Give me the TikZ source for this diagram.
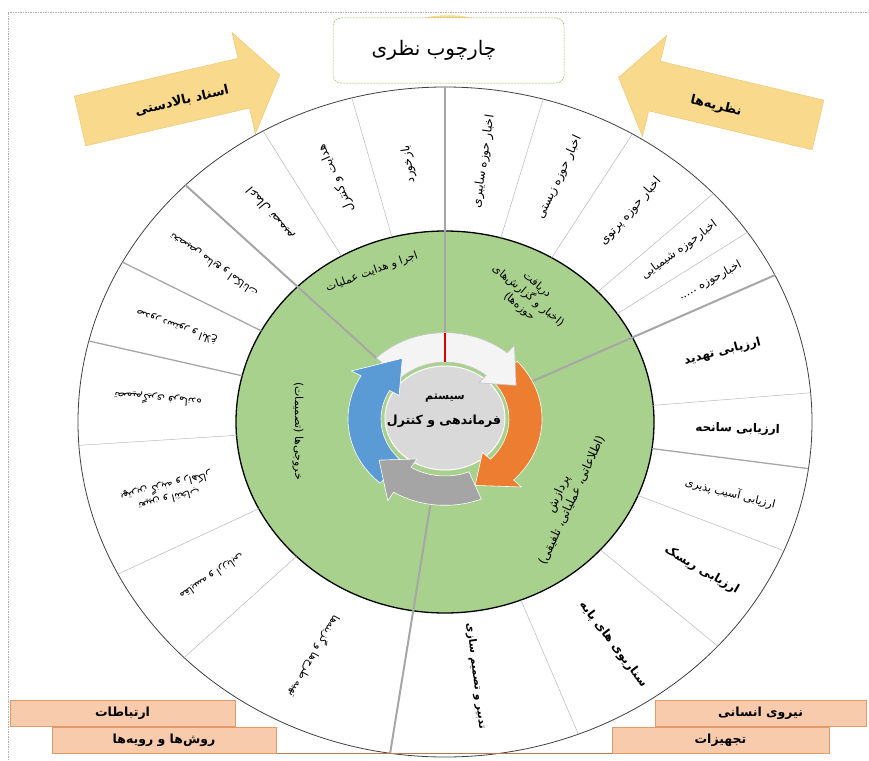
\documentclass[tikz,border=0pt]{standalone}
\usepackage{fontspec}
\usetikzlibrary{calc}
\newfontfamily\arabicfont[Script=Arabic]{DejaVu Sans}
\TeXXeTstate=1
\newcommand\fa[1]{\beginR#1\endR}
\definecolor{wheelgreen}{HTML}{A9D18E}
\definecolor{yarrow}{HTML}{F9D98B}
\definecolor{yarrowedge}{HTML}{E9C46F}
\definecolor{boxfill}{HTML}{F8CBAD}
\definecolor{boxedge}{HTML}{E39A6B}
\definecolor{ctwoblue}{HTML}{5B9BD5}
\definecolor{ctwoorange}{HTML}{ED7D31}
\definecolor{ctwogray}{HTML}{A5A5A5}
\definecolor{ctwowhite}{HTML}{F4F4F4}
\definecolor{ctwodisc}{HTML}{D9D9D9}
\definecolor{spokegray}{HTML}{A6A6A6}
\definecolor{framegreen}{HTML}{9BBB59}
% wedge label: [style]{name}{angle}{fraction}{text}
\newcommand\wl[5][wlab]{%
  \node[#1, rotate={atan2(263*sin(#3),288*cos(#3))}] (#2) at ({445+(209+#4*158)*cos(#3)},{-422+(191+#4*144)*sin(#3)}) {#5};}
\newcommand\spk[2]{% style, angle : from green edge to outer edge
  \draw[#1] ({445+209*cos(#2)},{-422+191*sin(#2)}) -- ({445+367*cos(#2)},{-422+335*sin(#2)});}
\newcommand\tspk[1]{% thick spoke from ring to outer edge
  \draw[thickspoke] ({445+97*cos(#1)},{-419+86*sin(#1)}) -- ({445+367*cos(#1)},{-422+335*sin(#1)});}
\newcommand\ringarrow[5]{% fill, draw, a0, a1, a2
  \filldraw[fill=#1, draw=#2, line width=0.6pt] (#3:97) arc[start angle=#3, end angle=#4, radius=97] -- (#4:108) -- (#5:80.5) -- (#4:53) -- (#4:64) arc[start angle=#4, end angle=#3, radius=64] -- cycle;}
\begin{document}
\begin{tikzpicture}[x=1pt,y=1pt,
  every node/.style={font=\arabicfont, inner sep=0pt},
  wlab/.style={font=\arabicfont\fontsize{12}{14}\selectfont, align=center},
  wlabn/.style={font=\arabicfont\fontsize{11.5}{14}\selectfont, align=center},
  wlabb/.style={font=\arabicfont\bfseries\fontsize{12}{14}\selectfont, align=center},
  wlabs/.style={font=\arabicfont\fontsize{11}{13}\selectfont, align=center},
  wlabsb/.style={font=\arabicfont\bfseries\fontsize{10.5}{13}\selectfont, align=center},
  glab/.style={font=\arabicfont\fontsize{10.5}{13}\selectfont, align=center},
  grlab/.style={font=\arabicfont\fontsize{11}{14}\selectfont, align=center},
  thinspoke/.style={draw=gray!55, line width=0.5pt},
  medspoke/.style={draw=spokegray, line width=1.3pt},
  thickspoke/.style={draw=spokegray, line width=2pt},
  bigarrow/.style={fill=yarrow, draw=yarrowedge, line width=0.4pt},
  arrowlab/.style={font=\arabicfont\bfseries\fontsize{13}{15}\selectfont},
  botbox/.style={draw=boxedge, fill=boxfill, line width=0.6pt, font=\arabicfont\bfseries\fontsize{12.5}{15}\selectfont},
]
\useasboundingbox (0,0) rectangle (869,-760);
% frame
\draw[gray!60, line width=0.6pt, dash pattern=on 1.5pt off 1pt] (8,-760) -- (8,-12) -- (869,-12);
% yellow cap behind the title
\fill[yarrow] (412,-22) .. controls (430,-13) and (466,-13) .. (485,-22) -- cycle;
% big yellow arrows
\begin{scope}[shift={(80,-121)}, rotate=13]
  \filldraw[bigarrow] (0,-25.5) -- (168,-25.5) -- (168,-52) -- (205,0) -- (168,52) -- (168,25.5) -- (0,25.5) -- cycle;
\end{scope}
\node[arrowlab, rotate=13] (upper) at (182,-101) {\fa{اسناد بالادستی}};
\begin{scope}[shift={(818,-125)}, rotate=166.6]
  \filldraw[bigarrow] (0,-25.5) -- (168,-25.5) -- (168,-52) -- (205,0) -- (168,52) -- (168,25.5) -- (0,25.5) -- cycle;
\end{scope}
\node[arrowlab, rotate=-13.4] (theories) at (716,-106) {\fa{نظریه‌ها}};
% wheel
\filldraw[fill=white, draw=black!75, line width=0.8pt] (445,-422) ellipse [x radius=367, y radius=335];
\filldraw[fill=wheelgreen, draw=black, line width=1.3pt] (445,-422) ellipse [x radius=209, y radius=191];
% spokes
\foreach \a in {74.5,59.3,43,34.5,5,-22.6,-42,-68.7,224.7,207,184,119.7,104.7} {\spk{thinspoke}{\a}}
\foreach \a in {-8,166,151.5} {\spk{medspoke}{\a}}
\foreach \a in {90,26,135,-98.6} {\tspk{\a}}
% wedge labels
\wl{w1}{82.25}{0.5}{\fa{اخبار حوزه سایبری}}
\wl{w2}{66.9}{0.52}{\fa{اخبار حوزه زیستی}}
\wl{w3}{51.15}{0.55}{\fa{اخبار حوزه پرتوی}}
\wl[wlabn]{w4}{38.75}{0.58}{\fa{اخبارحوزه شیمیایی}}
\wl[wlabn]{w5}{30.25}{0.62}{\fa{اخبارحوزه .....}}
\wl[wlabb]{w6}{15.5}{0.5}{\fa{ارزیابی تهدید}}
\wl[wlabb]{w7}{-1.5}{0.53}{\fa{ارزیابی سانحه}}
\wl[wlabs]{w8}{-15.3}{0.55}{\fa{ارزیابی آسیب پذیری}}
\wl[wlabb]{w9}{-32.3}{0.6}{\fa{ارزیابی ریسک}}
\wl[wlabb]{w10}{-55.35}{0.55}{\fa{سناریوی های پایه}}
\wl[wlabsb]{w11}{-83.65}{0.45}{\fa{تدبیر و تصمیم سازی}}
\wl[glab]{w12}{243}{0.5}{\fa{تهیه طرح‌ها و گزینه‌ها}}
\wl[glab]{w13}{215.9}{0.5}{\fa{مقایسه و ارزیابی}}
\wl[glab]{w14}{195.5}{0.5}{\fa{تعیین و انتخاب}\\\fa{بهترین گزینه و راهکار}}
\wl[glab]{w15}{175}{0.5}{\fa{تصمیم‌گیری فرمانده}}
\wl[glab]{w16}{158.75}{0.5}{\fa{صدور دستور و ابلاغ}}
\wl[glab]{w17}{143.25}{0.5}{\fa{تخصیص منابع و امکانات}}
\wl{w18}{127.35}{0.5}{\fa{اعمال تصمیم}}
\wl{w19}{112.2}{0.5}{\fa{هدایت و کنترل}}
\wl{w20}{97.35}{0.48}{\fa{بازخورد}}
% green ring labels
\node[grlab, rotate=20] (gtl) at (372,-272) {\fa{اجرا و هدایت عملیات}};
\node[grlab, rotate=-40] (gtr) at (528,-296) {\fa{دریافت}\\\fa{(اخبار و گزارش‌های}\\\fa{حوزه‌ها)}};
\node[font=\arabicfont\fontsize{12}{15}\selectfont, align=center, rotate=65] (grt) at (565,-497) {\fa{پردازش}\\\fa{(اطلاعاتی، عملیاتی، تلفیقی)}};
\node[grlab, rotate=-90] (glt) at (298,-431) {\fa{خروجی‌ها (تصمیمات)}};
% centre disc and circular arrows
\filldraw[fill=ctwodisc, draw=white, line width=1pt] (445,-418) ellipse [x radius=60, y radius=52];
\begin{scope}[shift={(445,-419)}, yscale=0.89]
  \ringarrow{ctwoorange}{white}{42}{-45}{-68}
  \ringarrow{ctwowhite}{gray!45}{135}{50}{28}
  \ringarrow{ctwoblue}{white}{228}{150}{122}
  \ringarrow{ctwogray}{white}{-68}{-122}{-145}
\end{scope}
\draw[red!85!black, line width=2pt] (445,{-419+97*0.89}) -- (445,{-419+64*0.89});
\node (sys) at (445,-398) {\bfseries\fontsize{11}{13}\selectfont\fa{سیستم}};
\node (fc) at (444,-421) {\bfseries\fontsize{12.5}{15}\selectfont\fa{فرماندهی و کنترل}};
% title box
\node[draw=framegreen, line width=0.5pt, dash pattern=on 2pt off 1pt, rounded corners=8pt, fill=white, minimum width=231pt, minimum height=65pt] (title) at (448.5,-50.5) {};
\node[font=\arabicfont\fontsize{20}{24}\selectfont] (titletext) at (434,-50) {\fa{چارچوب نظری}};
% bottom boxes
\draw[boxedge!80!black, line width=0.6pt] (276,-753) -- (612,-753);
\node[botbox, minimum width=225pt, minimum height=26pt] (comm) at (122.5,-713) {\fa{ارتباطات}};
\node[botbox, minimum width=211pt, minimum height=26pt] (hr) at (760.5,-713) {\fa{نیروی انسانی}};
\node[botbox, minimum width=224pt, minimum height=26pt] (meth) at (164,-740) {\fa{روش‌ها و رویه‌ها}};
\node[botbox, minimum width=217pt, minimum height=26pt] (equip) at (720.5,-740) {\fa{تجهیزات}};
\end{tikzpicture}
\end{document}
